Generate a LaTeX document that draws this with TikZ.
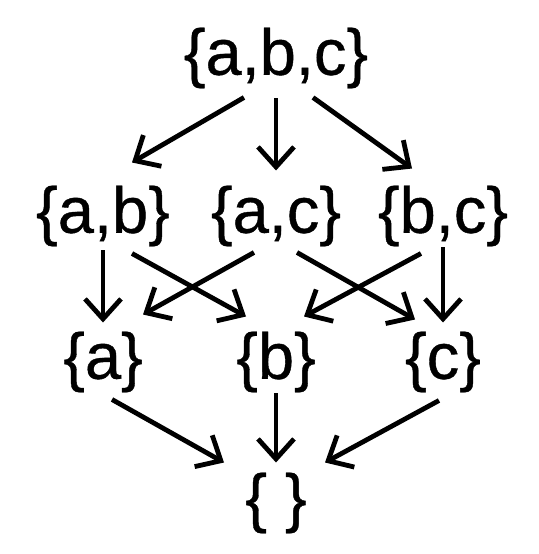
\documentclass[tikz,border=0pt]{standalone}
\usepackage{fontspec}
\setmainfont{Liberation Sans}
\newfontfamily\setfont[FakeBold=0.6]{Liberation Sans}
\usetikzlibrary{positioning,arrows.meta}

\begin{document}
\begin{tikzpicture}[x=1pt,y=1pt,on grid,
  set node/.style={inner sep=0pt,font=\setfont\fontsize{65}{70}\selectfont},
  every edge/.style={draw,line width=4.8pt,
    -{Straight Barb[length=20pt,width=36pt,sharp]}}]
  \useasboundingbox (0,0) rectangle (538,554);

  \node[set node] (abc) at (276,496) {\{a,b,c\}};
  \node[set node] (ac) [below=158pt of abc] {\{a,c\}};
  \node[set node] (ab) [left=173pt of ac] {\{a,b\}};
  \node[set node] (bc) [right=167pt of ac] {\{b,c\}};
  \node[set node] (b) [below=146pt of ac] {\{b\}};
  \node[set node] (a) [left=173pt of b] {\{a\}};
  \node[set node] (c) [right=167pt of b] {\{c\}};
  \node[set node] (e) [below=141pt of b] {\{ \}};

  \path
    ([xshift=-32pt,yshift=-9pt]abc.south) edge ([xshift=29pt,yshift=23pt]ab.north)
    ([yshift=-10pt]abc.south) edge ([yshift=15pt]ac.north)
    ([xshift=37pt,yshift=-9pt]abc.south) edge ([xshift=-31pt,yshift=17pt]bc.north)
    ([yshift=-4pt]ab.south) edge ([yshift=9pt]a.north)
    ([xshift=29pt,yshift=-7pt]ab.south) edge ([xshift=-30pt,yshift=15pt]b.north)
    ([xshift=-22pt,yshift=-6pt]ac.south) edge ([xshift=40pt,yshift=17pt]a.north)
    ([xshift=21pt,yshift=-6pt]ac.south) edge ([xshift=-28pt,yshift=12pt]c.north)
    ([xshift=-22pt,yshift=-7pt]bc.south) edge ([xshift=28pt,yshift=15pt]b.north)
    ([yshift=-1pt]bc.south) edge ([yshift=9pt]c.north)
    ([xshift=9pt,yshift=-7pt]a.south) edge ([xshift=-52pt,yshift=10pt]e.north)
    ([yshift=-1pt]b.south) edge ([yshift=10pt]e.north)
    ([xshift=-4pt,yshift=-8pt]c.south) edge ([xshift=49pt,yshift=10pt]e.north);
\end{tikzpicture}
\end{document}
